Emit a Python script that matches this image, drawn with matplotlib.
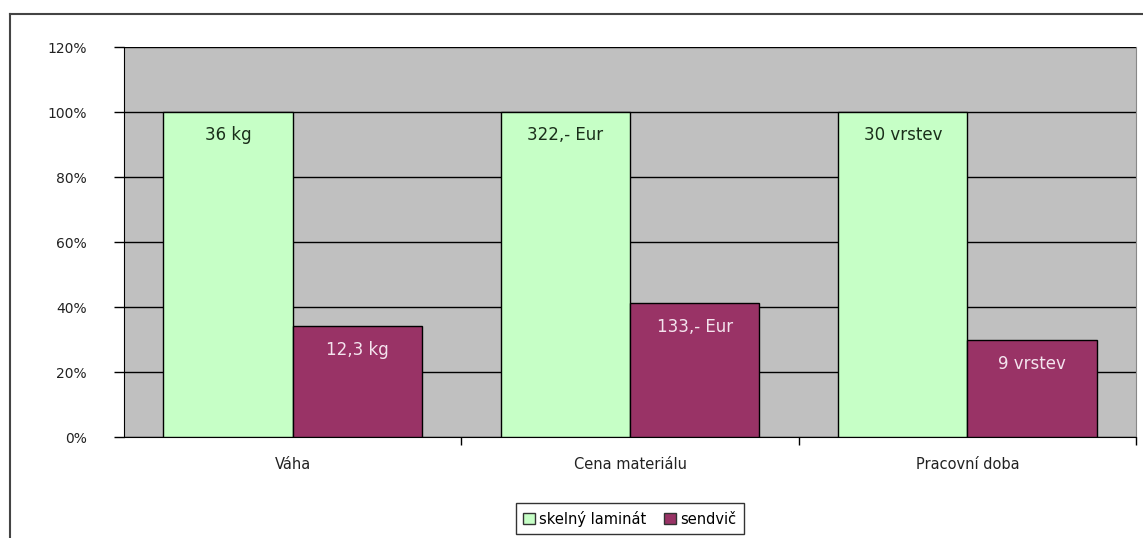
import numpy as np
import matplotlib.pyplot as plt
from matplotlib.lines import Line2D
from matplotlib.patches import Patch

plt.rcParams['font.family'] = ['DejaVu Sans']

categories = ['Váha', 'Cena materiálu', 'Pracovní doba']
series_names = ['skelný laminát', 'sendvič']
laminat_pct = [100, 100, 100]
sendvic_pct = [34.2, 41.3, 30.0]
laminat_labels = ['36 kg', '322,- Eur', '30 vrstev']
sendvic_labels = ['12,3 kg', '133,- Eur', '9 vrstev']
yticks = [0, 20, 40, 60, 80, 100, 120]

green = '#C6FFC6'
maroon = '#993366'
plot_gray = '#C0C0C0'

fig = plt.figure(figsize=(11.43, 5.38), dpi=100)
ax = fig.add_axes([0.1085, 0.1877, 0.8854, 0.7249])
ax.set_facecolor(plot_gray)

x = np.arange(len(categories))
w = 0.383
b1 = ax.bar(x - w / 2, laminat_pct, w, color=green, edgecolor='black', linewidth=1, zorder=3)
b2 = ax.bar(x + w / 2, sendvic_pct, w, color=maroon, edgecolor='black', linewidth=1, zorder=3)

for rect, lab in zip(b1, laminat_labels):
    ax.text(rect.get_x() + rect.get_width() / 2, rect.get_height() - 4.2, lab,
            ha='center', va='top', fontsize=12, color='#1a2e1a', zorder=4)
for rect, lab in zip(b2, sendvic_labels):
    ax.text(rect.get_x() + rect.get_width() / 2, rect.get_height() - 4.8, lab,
            ha='center', va='top', fontsize=12, color='#f4e4ee', zorder=4)

ax.set_xlim(-0.5, len(categories) - 0.5)
ax.set_ylim(0, 120)
ax.set_yticks(yticks)
ax.set_yticklabels([f'{v}%' for v in yticks], fontsize=10, color='#222222')
ax.yaxis.grid(True, color='black', linewidth=1, zorder=1)
ax.tick_params(axis='y', length=7, width=1, pad=20, direction='out')

# category labels between boundary ticks
ax.set_xticks(x + 0.5, minor=False)
ax.set_xticklabels([])
ax.tick_params(axis='x', length=6, width=1, direction='out')
for xi, cat in zip(x, categories):
    ax.text(xi, -8.6, cat, ha='center', va='center', fontsize=10.5, color='#222222')

ax.spines['left'].set_color('black')
ax.spines['bottom'].set_color('black')
ax.spines['top'].set_visible(False)
ax.spines['right'].set_color('#888888')

handles = [Patch(facecolor=green, edgecolor='#333333'),
           Patch(facecolor=maroon, edgecolor='#333333')]
leg = fig.legend(handles, series_names, loc='center', bbox_to_anchor=(0.551, 0.036),
                 ncol=2, fontsize=10.5, frameon=True, fancybox=False, edgecolor='black',
                 handlelength=0.8, handleheight=0.8, handletextpad=0.3, columnspacing=1.2,
                 borderpad=0.5)
leg.get_frame().set_linewidth(1)

# outer chart border (top and left)
fig.add_artist(Line2D([10 / 1143, 1], [1 - 14 / 538, 1 - 14 / 538], color='#444444', linewidth=1.5))
fig.add_artist(Line2D([10 / 1143, 10 / 1143], [0, 1 - 14 / 538], color='#444444', linewidth=1.5))

fig.savefig('out.png', dpi=100)
